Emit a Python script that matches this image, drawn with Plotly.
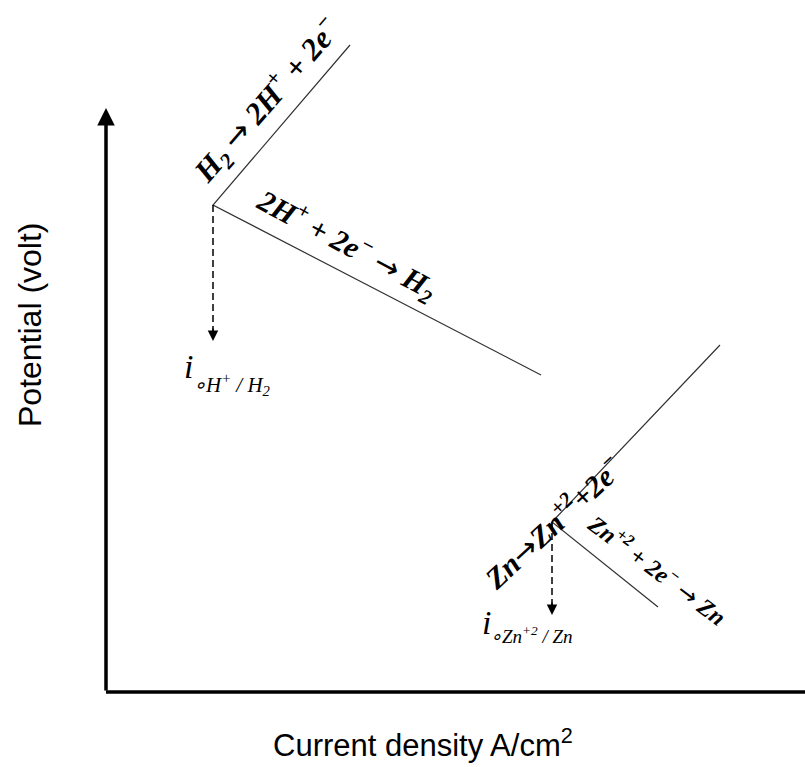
import plotly.graph_objects as go

# ---- data (arbitrary units; x = current density, y = potential) ----
h2_current = [350, 213, 541]        # anodic end, exchange point, cathodic end
h2_potential = [722, 562, 392]
zn_current = [720, 552, 658]
zn_potential = [422, 245, 160]
i0_current = [213, 552]             # exchange current densities
i0_top = [562, 245]
i0_bottom = [426, 152]
axis_origin = (106, 75)
axis_ends = (805, 659)

W, H = 805, 767
fig = go.Figure()

line_style = dict(color="#333333", width=1.2)
fig.add_trace(go.Scatter(x=h2_current, y=h2_potential, mode="lines", line=line_style, hoverinfo="skip"))
fig.add_trace(go.Scatter(x=zn_current, y=zn_potential, mode="lines", line=line_style, hoverinfo="skip"))

# dashed drop lines to exchange current
for xc, yt, yb in zip(i0_current, i0_top, i0_bottom):
    fig.add_trace(go.Scatter(x=[xc, xc], y=[yt, yb + 10], mode="lines",
                             line=dict(color="black", width=1.5, dash="7px,4px"), hoverinfo="skip"))
    fig.add_annotation(x=xc, y=yb, ax=xc, ay=yb + 14, xref="x", yref="y", axref="x", ayref="y",
                       text="", showarrow=True, arrowhead=2, arrowsize=1.4, arrowwidth=1.5, arrowcolor="black")

# axes
ox, oy = axis_origin
fig.add_shape(type="line", x0=ox, y0=oy, x1=axis_ends[0], y1=oy, line=dict(color="black", width=3.5))
fig.add_annotation(x=ox, y=axis_ends[1], ax=ox, ay=oy, xref="x", yref="y", axref="x", ayref="y",
                   text="", showarrow=True, arrowhead=2, arrowsize=1, arrowwidth=3.5, arrowcolor="black")

serif = "Liberation Serif"
ARROW = '<span style="font-family:DejaVu Sans;font-weight:normal">→</span>'

fig.add_annotation(x=267, y=666, xref="x", yref="y", showarrow=False, textangle=-49,
                   text=f"<b><i>H<sub>2</sub> {ARROW} 2H<sup>+</sup> + 2e<sup>−</sup></i></b>",
                   font=dict(family=serif, size=31, color="black"))
fig.add_annotation(x=347, y=523, xref="x", yref="y", showarrow=False, textangle=28,
                   text=f"<b><i>2H<sup>+</sup> + 2e<sup>−</sup> {ARROW} H<sub>2</sub></i></b>",
                   font=dict(family=serif, size=30, color="black"))
fig.add_annotation(x=552, y=245, xref="x", yref="y", showarrow=False, textangle=-43,
                   text=f"<b><i>Zn{ARROW}Zn<sup>+2</sup>+2e<sup>−</sup></i></b>",
                   font=dict(family=serif, size=30, color="black"))
fig.add_annotation(x=658, y=198, xref="x", yref="y", showarrow=False, textangle=37,
                   text=f"<b><i>Zn<sup>+2</sup> + 2e<sup>−</sup> {ARROW} Zn</i></b>",
                   font=dict(family=serif, size=24, color="black"))

# exchange current labels
fig.add_annotation(x=188, y=401, xref="x", yref="y", showarrow=False,
                   text="<i>i</i>", font=dict(family=serif, size=34, color="black"))
fig.add_annotation(x=191, y=383, xref="x", yref="y", showarrow=False, xanchor="left",
                   text="<i>∘H<sup>+</sup> / H<sub>2</sub></i>", font=dict(family=serif, size=21, color="black"))
fig.add_annotation(x=486, y=145, xref="x", yref="y", showarrow=False,
                   text="<i>i</i>", font=dict(family=serif, size=34, color="black"))
fig.add_annotation(x=488, y=132, xref="x", yref="y", showarrow=False, xanchor="left",
                   text="<i>∘Zn<sup>+2</sup> / Zn</i>", font=dict(family=serif, size=19, color="black"))

# axis titles
sans = "Liberation Sans"
fig.add_annotation(x=30, y=442, xref="x", yref="y", showarrow=False, textangle=-90,
                   text="Potential (volt)", font=dict(family=sans, size=32, color="black"))
fig.add_annotation(x=423, y=24, xref="x", yref="y", showarrow=False,
                   text="Current density A/cm<sup>2</sup>", font=dict(family=sans, size=31, color="black"))

fig.update_layout(width=W, height=H, margin=dict(l=0, r=0, t=0, b=0),
                  paper_bgcolor="white", plot_bgcolor="white", showlegend=False,
                  xaxis=dict(range=[0, W], visible=False, fixedrange=True),
                  yaxis=dict(range=[0, H], visible=False, fixedrange=True))
fig.write_html("out.html", post_script="document.body.style.margin='0';document.body.style.overflow='hidden';",
               config={"displayModeBar": False})
